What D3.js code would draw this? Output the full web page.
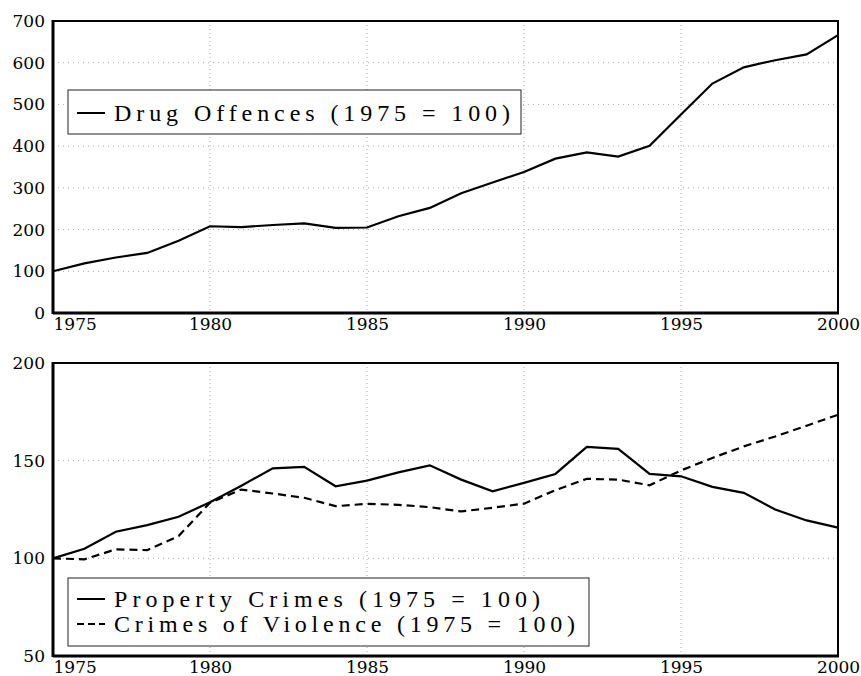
<!DOCTYPE html>
<html>
<head>
<meta charset="utf-8">
<script src="https://cdn.jsdelivr.net/npm/d3@7"></script>
<style>
  body { margin: 0; background: #fff; }
  text { font-family: "DejaVu Serif", serif; fill: #000; }
</style>
</head>
<body>
<svg id="chart" width="861" height="676"></svg>
<script>
// data (index, 1975 = 100)
const years = [1975, 1976, 1977, 1978, 1979, 1980, 1981, 1982, 1983, 1984, 1985, 1986, 1987,
  1988, 1989, 1990, 1991, 1992, 1993, 1994, 1995, 1996, 1997, 1998, 1999, 2000];
const drugOffences = [100, 119, 133, 144, 173, 208, 206, 211, 215, 204, 205, 232, 252,
  287, 313, 338, 370, 385, 375, 401, 476, 550, 589, 606, 620, 666];
const propertyCrimes = [100, 104.9, 113.6, 117, 121.3, 128.7, 137.2, 146.1, 146.8, 136.9, 139.8, 144, 147.6,
  140.3, 134.3, 138.6, 143.2, 157.1, 156, 143.2, 142, 136.6, 133.5, 125, 119.4, 115.7];
const crimesOfViolence = [100, 99.5, 104.6, 104.2, 111.4, 128.5, 135.2, 133.2, 131, 126.7, 127.9, 127.4, 126.2,
  124, 125.9, 128, 134.9, 140.7, 140.3, 137.4, 145, 151.4, 157.3, 162.4, 167.9, 173.5];

const xTicks = [1975, 1980, 1985, 1990, 1995, 2000];
const topTicks = [0, 100, 200, 300, 400, 500, 600, 700];
const bottomTicks = [50, 100, 150, 200];

const svg = d3.select('#chart');
const left = 53, right = 838;

const x = d3.scaleLinear().domain([1975, 2000]).range([left, right]);

function panel(top, bottom, yDomain, yTicks, series, legend) {
  const y = d3.scaleLinear().domain(yDomain).range([bottom, top]);
  const g = svg.append('g');

  // dotted grid
  g.append('g').selectAll('line')
    .data(yTicks.filter(t => t > yDomain[0] && t < yDomain[1]))
    .join('line')
    .attr('x1', left).attr('x2', right)
    .attr('y1', d => y(d)).attr('y2', d => y(d))
    .attr('stroke', '#aaa').attr('stroke-width', 1).attr('stroke-dasharray', '1,4');
  g.append('g').selectAll('line')
    .data(xTicks.filter(t => t > 1975 && t < 2000))
    .join('line')
    .attr('x1', d => x(d)).attr('x2', d => x(d))
    .attr('y1', top).attr('y2', bottom)
    .attr('stroke', '#aaa').attr('stroke-width', 1).attr('stroke-dasharray', '1,3');

  // axes (labels only, frame drawn separately)
  const xAxis = g.append('g')
    .attr('transform', `translate(0,${bottom})`)
    .call(d3.axisBottom(x).tickValues(xTicks).tickFormat(d3.format('d')).tickSize(0).tickPadding(5));
  xAxis.select('.domain').remove();
  xAxis.selectAll('text')
    .style('font-family', '"DejaVu Serif", serif').style('font-size', '17px')
    .attr('text-anchor', d => d === 1975 ? 'start' : 'middle');

  const yAxis = g.append('g')
    .attr('transform', `translate(${left - 8},0)`)
    .call(d3.axisLeft(y).tickValues(yTicks).tickSize(0).tickPadding(0));
  yAxis.select('.domain').remove();
  yAxis.selectAll('text')
    .style('font-family', '"DejaVu Serif", serif').style('font-size', '17px');

  // lines
  const line = d3.line().x((d, i) => x(years[i])).y(d => y(d));
  series.forEach(s => {
    g.append('path')
      .datum(s.values)
      .attr('d', line)
      .attr('fill', 'none')
      .attr('stroke', '#000')
      .attr('stroke-width', 2.2)
      .attr('stroke-dasharray', s.dash || null);
  });

  // frame
  g.append('rect')
    .attr('x', left).attr('y', top)
    .attr('width', right - left).attr('height', bottom - top)
    .attr('fill', 'none').attr('stroke', '#000').attr('stroke-width', 2);
  g.append('line').attr('x1', left).attr('x2', left).attr('y1', top - 1).attr('y2', bottom + 1)
    .attr('stroke', '#000').attr('stroke-width', 3);
  g.append('line').attr('x1', left).attr('x2', right + 1).attr('y1', bottom).attr('y2', bottom)
    .attr('stroke', '#000').attr('stroke-width', 3);

  // legend
  const lg = g.append('g');
  lg.append('rect')
    .attr('x', legend.x).attr('y', legend.y)
    .attr('width', legend.w).attr('height', legend.h)
    .attr('fill', '#fff').attr('stroke', '#222').attr('stroke-width', 1);
  series.forEach((s, i) => {
    const by = legend.base + i * 25;
    lg.append('line')
      .attr('x1', legend.x + 9).attr('x2', legend.x + 37)
      .attr('y1', by - 8).attr('y2', by - 8)
      .attr('stroke', '#000').attr('stroke-width', 2)
      .attr('stroke-dasharray', s.dash ? '7,4' : null);
    lg.append('text')
      .attr('x', legend.x + 46).attr('y', by)
      .attr('textLength', s.len).attr('lengthAdjust', 'spacing')
      .style('font-family', '"Liberation Serif", serif')
      .style('font-size', '24px')
      .text(s.label);
  });
}

panel(21, 313, [0, 700], topTicks,
  [{ values: drugOffences, label: 'Drug Offences (1975 = 100)', len: 396 }],
  { x: 68, y: 90, w: 453, h: 44, base: 121 });

panel(363, 656, [50, 200], bottomTicks,
  [{ values: propertyCrimes, label: 'Property Crimes (1975 = 100)', len: 426 },
   { values: crimesOfViolence, label: 'Crimes of Violence (1975 = 100)', len: 461, dash: '8,5' }],
  { x: 68, y: 578, w: 521, h: 68, base: 607 });
</script>
</body>
</html>
